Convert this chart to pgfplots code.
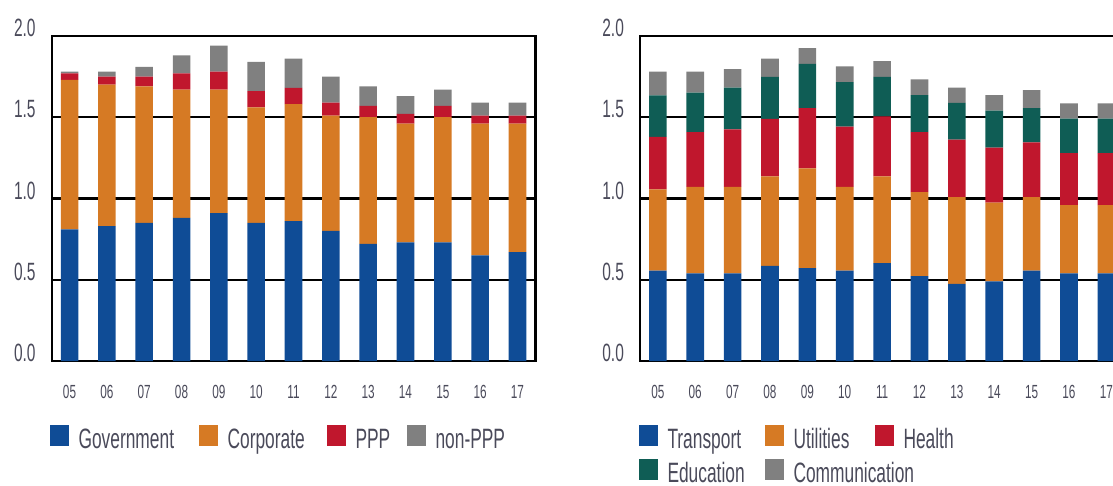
\documentclass[border=0pt]{standalone}
\usepackage{fontspec}
\setmainfont{Liberation Sans}[FakeStretch=0.62]
\usepackage{pgfplots}
\pgfplotsset{compat=1.18}
\definecolor{cblue}{RGB}{15,76,150}
\definecolor{corange}{RGB}{214,122,36}
\definecolor{cred}{RGB}{192,23,45}
\definecolor{cgray}{RGB}{128,128,128}
\definecolor{cteal}{RGB}{15,93,85}
\definecolor{txt}{RGB}{74,74,90}
\pgfplotsset{
  mybars/.style={
    scale only axis, width=241.7pt, height=162.5pt,
    ybar stacked, bar width=0.47,
    xmin=-0.47, xmax=12.48, ymin=0, ymax=2,
    xtick={0,...,12},
    xticklabels={05,06,07,08,09,10,11,12,13,14,15,16,17},
    ytick={0,0.5,1,1.5,2},
    yticklabels={0.0,0.5,1.0,1.5,2.0},
    major tick length=0pt,
    ymajorgrids, major grid style={black, line width=1.1pt},
    axis line style={black, line width=1.1pt},
    xticklabel style={font=\fontsize{9.5pt}{11pt}\selectfont, text=txt, anchor=center, inner sep=0pt, yshift=-15.5pt},
    yticklabel style={font=\fontsize{12.5pt}{14pt}\selectfont, text=txt, anchor=east, inner sep=0pt, xshift=-8pt, yshift=4pt},
    legend image code/.code={\fill[##1] (0pt,-2pt) rectangle (9.5pt,8.5pt);},
    legend cell align=left,
    legend style={anchor=north west, draw=none, fill=none, inner sep=0pt, outer sep=0pt,
      font=\fontsize{14pt}{16pt}\selectfont, text=txt,
      nodes={inner sep=0pt, text height=8.5pt, text depth=2.5pt},
      column sep=0pt, row sep=3pt,
      /tikz/every odd column/.style={column sep=4.75pt},
      /tikz/every even column/.style={column sep=0pt}},
  }
}
\begin{document}
\begin{tikzpicture}
\useasboundingbox (0pt,0pt) rectangle (556.5pt,-243pt);
\clip (0pt,0pt) rectangle (556.5pt,-243pt);
\begin{axis}[mybars, at={(26pt,-180.5pt)}, anchor=south west,
  legend columns=4,
  legend style={at={(-0.004,-0.197)}}]
\addplot[fill=cblue, draw=none] coordinates {(0,0.81) (1,0.83) (2,0.85) (3,0.88) (4,0.91) (5,0.85) (6,0.86) (7,0.80) (8,0.72) (9,0.73) (10,0.73) (11,0.65) (12,0.67)};
\addplot[fill=corange, draw=none] coordinates {(0,0.92) (1,0.87) (2,0.84) (3,0.79) (4,0.76) (5,0.71) (6,0.72) (7,0.71) (8,0.78) (9,0.73) (10,0.77) (11,0.81) (12,0.79)};
\addplot[fill=cred, draw=none] coordinates {(0,0.04) (1,0.05) (2,0.06) (3,0.10) (4,0.11) (5,0.10) (6,0.10) (7,0.08) (8,0.07) (9,0.06) (10,0.07) (11,0.05) (12,0.05)};
\addplot[fill=cgray, draw=none] coordinates {(0,0.01) (1,0.03) (2,0.06) (3,0.11) (4,0.16) (5,0.18) (6,0.18) (7,0.16) (8,0.12) (9,0.11) (10,0.10) (11,0.08) (12,0.08)};
\addlegendentry{\makebox[60.25pt][l]{Government}}
\addlegendentry{\makebox[49.75pt][l]{Corporate}}
\addlegendentry{\makebox[25.75pt][l]{PPP}}
\addlegendentry{non-PPP}
\end{axis}
\begin{axis}[mybars, width=242pt, at={(320.15pt,-180.5pt)}, anchor=south west,
  legend columns=3,
  legend style={at={(-0.0027,-0.197)}}]
\addplot[fill=cblue, draw=none] coordinates {(0,0.556) (1,0.539) (2,0.539) (3,0.586) (4,0.572) (5,0.556) (6,0.603) (7,0.523) (8,0.475) (9,0.490) (10,0.556) (11,0.539) (12,0.539)};
\addplot[fill=corange, draw=none] coordinates {(0,0.500) (1,0.533) (2,0.533) (3,0.550) (4,0.613) (5,0.516) (6,0.533) (7,0.516) (8,0.533) (9,0.485) (10,0.452) (11,0.420) (12,0.420)};
\addplot[fill=cred, draw=none] coordinates {(0,0.323) (1,0.337) (2,0.354) (3,0.354) (4,0.371) (5,0.370) (6,0.370) (7,0.370) (8,0.354) (9,0.338) (10,0.338) (11,0.321) (12,0.321)};
\addplot[fill=cteal, draw=none] coordinates {(0,0.255) (1,0.243) (2,0.257) (3,0.259) (4,0.273) (5,0.274) (6,0.243) (7,0.227) (8,0.226) (9,0.228) (10,0.210) (11,0.212) (12,0.212)};
\addplot[fill=cgray, draw=none] coordinates {(0,0.146) (1,0.128) (2,0.113) (3,0.111) (4,0.097) (5,0.097) (6,0.097) (7,0.097) (8,0.095) (9,0.095) (10,0.111) (11,0.094) (12,0.094)};
\addlegendentry{\makebox[48.75pt][l]{Transport}}
\addlegendentry{\makebox[40.75pt][l]{Utilities}}
\addlegendentry{Health}
\addlegendentry{\makebox[48.75pt][l]{Education}}
\addlegendentry{\makebox[40.75pt][l]{Communication}}
\end{axis}
\end{tikzpicture}
\end{document}
